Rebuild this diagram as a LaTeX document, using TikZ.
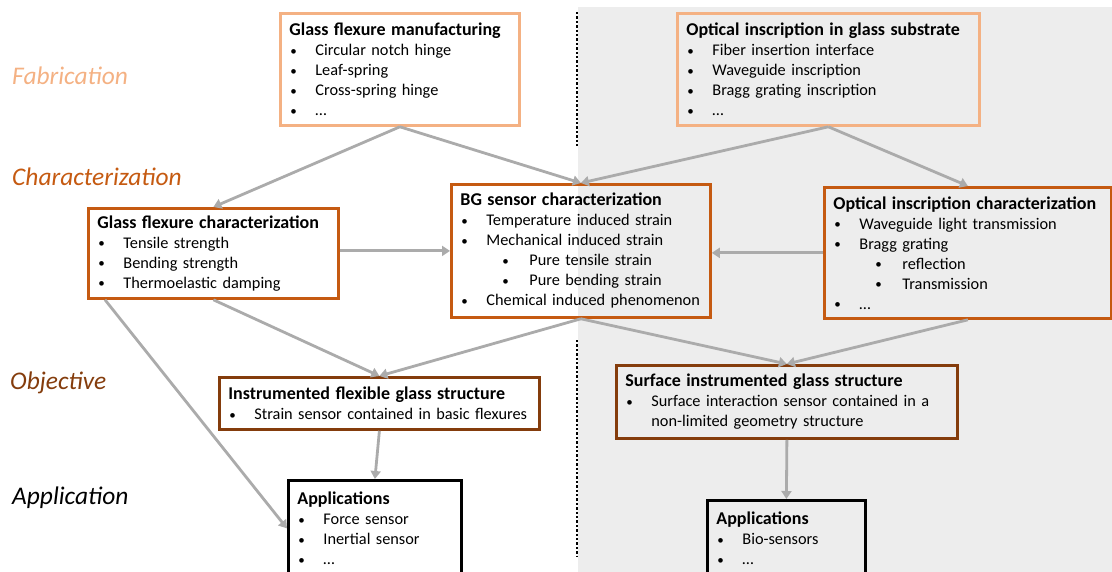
\documentclass[tikz,border=0pt]{standalone}
\usepackage{fontspec}
\setmainfont{Carlito}
\usetikzlibrary{arrows.meta,calc}
\definecolor{lor}{HTML}{F4B183}
\definecolor{dor}{HTML}{C55A11}
\definecolor{brn}{HTML}{843C0C}
\definecolor{arr}{HTML}{ABABAB}
\definecolor{bgg}{HTML}{EDEDED}
\newcommand\bdot{\raisebox{0.5pt}{\scalebox{0.8}{\textbullet}}}
\newcommand\bul[1]{\makebox[26pt][l]{\hspace*{1pt}\bdot}#1}
\newcommand\sbul[1]{\hspace*{41pt}\makebox[28pt][l]{\hspace*{1pt}\bdot}#1}
\newcommand\ttl[1]{{\fontsize{18}{20}\selectfont\bfseries #1}}
\begin{document}
\begin{tikzpicture}[x=1pt,y=-1pt,
  box/.style={draw=#1, line width=2.8pt, anchor=north west, align=left,
    inner xsep=9pt, inner ysep=0pt, font=\fontsize{16.3}{20}\selectfont},
  conn/.style={draw=arr, line width=2.8pt, -{Triangle[length=8pt,width=10pt]}},
  lab/.style={anchor=base west, inner sep=0pt, font=\fontsize{25.4}{28}\selectfont\itshape},
  sep/.style={line width=2.6pt, dash pattern=on 2.4pt off 2pt}
]
\useasboundingbox (0,0) rectangle (1112,572);
\fill[bgg] (578,7) rectangle (1120,580);
\draw[sep] (577,12) -- (577,146);
\draw[sep] (577,340) -- (577,556);

\node[lab, text=lor] (lfab) at (12,85) {Fabrication};
\node[lab, text=dor] (lchar) at (12,186) {Characterization};
\node[lab, text=brn] (lobj) at (10,389) {Objective};
\node[lab, text=black] (lapp) at (12,504) {Application};

\node[box=lor, text width=221pt, minimum height=112pt] (fm) at (279,12)
 {\ttl{Glass flexure manufacturing}\\ \bul{Circular notch hinge}\\ \bul{Leaf-spring}\\ \bul{Cross-spring hinge}\\ \bul{…}};
\node[box=lor, text width=284pt, minimum height=112pt] (oi) at (676,12)
 {\ttl{Optical inscription in glass substrate}\\ \bul{Fiber insertion interface}\\ \bul{Waveguide inscription}\\ \bul{Bragg grating inscription}\\ \bul{…}};
\node[box=dor, text width=232pt, minimum height=90pt] (fc) at (87,207)
 {\ttl{Glass flexure characterization}\\ \bul{Tensile strength}\\ \bul{Bending strength}\\ \bul{Thermoelastic damping}};
\node[box=dor, text width=241pt, minimum height=133pt] (bg) at (450,183)
 {\ttl{BG sensor characterization}\\ \bul{Temperature induced strain}\\ \bul{Mechanical induced strain}\\ \sbul{Pure tensile strain}\\ \sbul{Pure bending strain}\\ \bul{Chemical induced phenomenon}};
\node[box=dor, text width=269pt, minimum height=131pt] (oc) at (823,186)
 {\ttl{Optical inscription characterization}\\ \bul{Waveguide light transmission}\\ \bul{Bragg grating}\\ \sbul{reflection}\\ \sbul{Transmission}\\ \bul{…}};
\node[box=brn, text width=302pt, minimum height=52pt] (ifs) at (218,376)
 {\ttl{Instrumented flexible glass structure}\\ \bul{Strain sensor contained in basic flexures}};
\node[box=brn, text width=323pt, minimum height=73pt] (sis) at (615,364)
 {\ttl{Surface instrumented glass structure}\\ \bul{Surface interaction sensor contained in a}\\ \hspace*{26pt}non-limited geometry structure};
\node[box=black, text width=155pt, minimum height=96pt] (app1) at (287,479)
 {\ttl{Applications}\\ \bul{Force sensor}\\ \bul{Inertial sensor}\\ \bul{…}};
\node[box=black, text width=140pt, minimum height=76pt] (app2) at (706,499)
 {\ttl{Applications}\\ \bul{Bio-sensors}\\ \bul{…}};

\draw[conn] (fm.south) -- (fc.north);
\draw[conn] (fm.south) -- (bg.north);
\draw[conn] (oi.south) -- (bg.north);
\draw[conn] (oi.south) -- (oc.north);
\draw[conn] (fc.east |- bg.west) -- (bg.west);
\draw[conn] (oc.west) -- (oc.west -| bg.east);
\draw[conn] (fc.south) -- (ifs.north);
\draw[conn] (bg.south) -- (ifs.north);
\draw[conn] ([xshift=18pt]fc.south west) -- (app1.west);
\draw[conn] (bg.south) -- (sis.north);
\draw[conn] (oc.south) -- (sis.north);
\draw[conn] (ifs.south) -- (app1.north);
\draw[conn] (sis.south) -- (app2.north);
\end{tikzpicture}
\end{document}
